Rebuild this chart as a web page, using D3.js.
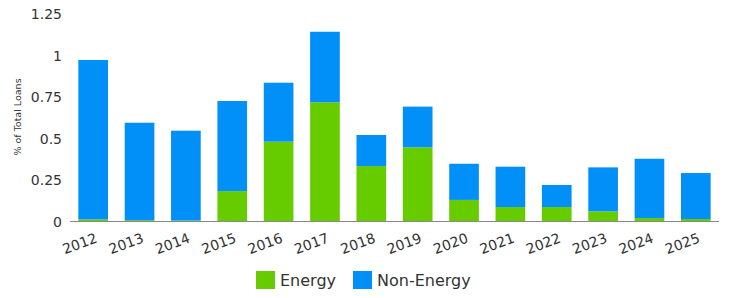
<!DOCTYPE html>
<html>
<head>
<meta charset="utf-8">
<script src="https://cdn.jsdelivr.net/npm/d3@7/dist/d3.min.js"></script>
<style>
  body { margin: 0; background: #fff; }
  text { font-family: "DejaVu Sans", sans-serif; fill: #333; }
</style>
</head>
<body>
<svg id="chart" width="731" height="298"></svg>
<script>
// chart values
var years = ["2012","2013","2014","2015","2016","2017","2018","2019","2020","2021","2022","2023","2024","2025"];
var energy    = [0.01, 0.005, 0.003, 0.18, 0.478, 0.715, 0.331, 0.444, 0.127, 0.084, 0.084, 0.058, 0.018, 0.012];
var nonEnergy = [0.96, 0.587, 0.541, 0.543, 0.355, 0.425, 0.187, 0.245, 0.218, 0.243, 0.133, 0.265, 0.357, 0.277];
var yTicks = [0, 0.25, 0.5, 0.75, 1, 1.25];
var seriesNames = ["Energy", "Non-Energy"];
var colors = ["#66cc00", "#0090f8"];

var svg = d3.select("#chart");

var x = d3.scaleBand().domain(years).range([70, 719]).paddingInner(0.36).paddingOuter(0.18);
var y = d3.scaleLinear().domain([0, 1.25]).range([221, 13.5]);

var rows = years.map(function(yr, i) {
  return { year: yr, "Energy": energy[i], "Non-Energy": nonEnergy[i] };
});
var stacked = d3.stack().keys(seriesNames)(rows);

// bars
svg.append("g").selectAll("g")
  .data(stacked)
  .enter().append("g")
    .attr("fill", function(d, i) { return colors[i]; })
  .selectAll("rect")
  .data(function(d) { return d; })
  .enter().append("rect")
    .attr("x", function(d) { return x(d.data.year); })
    .attr("width", x.bandwidth())
    .attr("y", function(d) { return y(d[1]); })
    .attr("height", function(d) { return y(d[0]) - y(d[1]); });

// y axis (labels only)
var yAxis = svg.append("g")
  .attr("transform", "translate(62,0)")
  .call(d3.axisLeft(y).tickValues(yTicks).tickSize(0).tickPadding(0)
        .tickFormat(function(d) { return d3.format("")(d); }));
yAxis.select(".domain").remove();
yAxis.selectAll("text").style("font-size", "14px").attr("fill", "#333").attr("dy", "0.36em");

// x axis
var xAxis = svg.append("g")
  .attr("transform", "translate(0," + y(0) + ")")
  .call(d3.axisBottom(x).tickSize(0).tickPadding(0));
xAxis.select(".domain").attr("stroke", "#888").attr("stroke-width", 1)
  .attr("d", "M70,0.5H719");
xAxis.selectAll("text")
  .style("font-size", "14px")
  .attr("fill", "#333")
  .attr("text-anchor", "end")
  .attr("dy", 0)
  .attr("transform", "translate(5,21) rotate(-20)");

// y axis title
svg.append("text")
  .attr("transform", "translate(21,117) rotate(-90)")
  .attr("text-anchor", "middle")
  .style("font-size", "9.5px")
  .text("% of Total Loans");

// legend
var legend = svg.append("g").attr("transform", "translate(256,271)");
var items = legend.selectAll("g")
  .data(seriesNames)
  .enter().append("g")
    .attr("transform", function(d, i) { return "translate(" + (i * 97) + ",0)"; });
items.append("rect")
  .attr("width", 19).attr("height", 18)
  .attr("fill", function(d, i) { return colors[i]; });
items.append("text")
  .attr("x", 24).attr("y", 15)
  .style("font-size", "16px")
  .text(function(d) { return d; });
</script>
</body>
</html>
